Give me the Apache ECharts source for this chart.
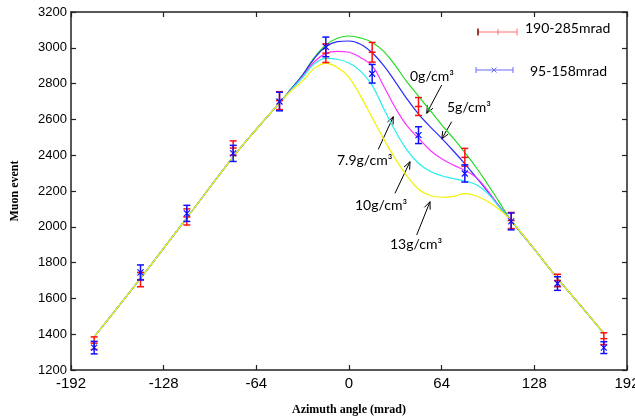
<!DOCTYPE html>
<html>
<head>
<meta charset="utf-8">
<script src="https://cdn.jsdelivr.net/npm/echarts@6/dist/echarts.min.js"></script>
<style>
  html, body { margin: 0; padding: 0; background: #fff; }
  #chart { width: 635px; height: 420px; }
</style>
</head>
<body>
<div id="chart"></div>
<script>
// measured points (azimuth angle, mrad)
const angles = [-176, -144, -112, -80, -48, -16, 16, 48, 80, 112, 144, 176];
const red = [1350, 1705, 2055, 2440, 2705, 2970, 2975, 2672, 2388, 2035, 1700, 1375];
const redErr = [35, 40, 45, 40, 50, 52, 55, 50, 50, 45, 35, 33];
const blue = [1325, 1745, 2075, 2410, 2700, 3005, 2855, 2512, 2298, 2030, 1683, 1325];
const blueErr = [35, 42, 45, 45, 52, 55, 52, 47, 48, 47, 38, 33];

// simulated curves
const curveX = [-176, -144, -112, -80, -64, -48, -40, -32, -24, -16, -8, 0, 8, 16, 24, 32, 40, 48, 56, 64, 72, 80, 88, 96, 104, 112, 128, 144, 160, 176];
const left = [1385, 1712, 2050, 2390, 2545, 2692];
const right = [2035, 1875, 1712, 1560, 1405];
const g0 = left.concat([2770, 2850, 2945, 3016, 3053, 3066, 3055, 3030, 2980, 2900, 2810, 2730, 2650, 2570, 2495, 2415, 2330, 2235, 2135], right);
const g5 = left.concat([2770, 2848, 2940, 3006, 3034, 3038, 3020, 2972, 2900, 2810, 2715, 2630, 2560, 2494, 2425, 2352, 2275, 2195, 2112], right);
const g79 = left.concat([2765, 2840, 2922, 2969, 2980, 2975, 2945, 2900, 2785, 2665, 2565, 2495, 2428, 2380, 2345, 2315, 2275, 2200, 2112], right);
const g10 = left.concat([2765, 2835, 2910, 2941, 2936, 2915, 2870, 2790, 2660, 2535, 2430, 2355, 2310, 2285, 2270, 2255, 2235, 2185, 2108], right);
const g13 = left.concat([2760, 2815, 2885, 2913, 2890, 2835, 2730, 2610, 2490, 2380, 2285, 2210, 2175, 2165, 2170, 2185, 2172, 2140, 2095], right);

const curves = [
  { name: '0g/cm³', data: g0, color: '#22dd22' },
  { name: '5g/cm³', data: g5, color: '#2a2aff' },
  { name: '7.9g/cm³', data: g79, color: '#ff33ff' },
  { name: '10g/cm³', data: g10, color: '#22eeee' },
  { name: '13g/cm³', data: g13, color: '#f2f200' }
];

const chart = echarts.init(document.getElementById('chart'));

function errorBar(color, marker) {
  return function (params, api) {
    const x = api.value(0), y = api.value(1), e = api.value(2);
    const t = api.coord([x, y + e]), b = api.coord([x, y - e]), m = api.coord([x, y]);
    const h = 3.5;
    const st = { stroke: color, lineWidth: 1.5 };
    const kids = [
      { type: 'line', shape: { x1: t[0], y1: t[1], x2: b[0], y2: b[1] }, style: st },
      { type: 'line', shape: { x1: t[0] - h, y1: t[1], x2: t[0] + h, y2: t[1] }, style: st },
      { type: 'line', shape: { x1: b[0] - h, y1: b[1], x2: b[0] + h, y2: b[1] }, style: st }
    ];
    if (marker === 'plus') {
      kids.push({ type: 'line', shape: { x1: m[0] - h, y1: m[1], x2: m[0] + h, y2: m[1] }, style: st });
    } else {
      kids.push({ type: 'line', shape: { x1: m[0] - 3, y1: m[1] - 3, x2: m[0] + 3, y2: m[1] + 3 }, style: { stroke: color, lineWidth: 1.2 } });
      kids.push({ type: 'line', shape: { x1: m[0] - 3, y1: m[1] + 3, x2: m[0] + 3, y2: m[1] - 3 }, style: { stroke: color, lineWidth: 1.2 } });
    }
    return { type: 'group', children: kids };
  };
}

// arrow with open head
function arrow(x1, y1, x2, y2) {
  const a = Math.atan2(y2 - y1, x2 - x1), L = 8, w = 0.4;
  return [
    { type: 'line', shape: { x1: x1, y1: y1, x2: x2, y2: y2 }, style: { stroke: '#000', lineWidth: 1 } },
    { type: 'polyline', shape: { points: [[x2 - L * Math.cos(a - w), y2 - L * Math.sin(a - w)], [x2, y2], [x2 - L * Math.cos(a + w), y2 - L * Math.sin(a + w)]] },
      style: { stroke: '#000', fill: null, lineWidth: 1 } }
  ];
}

function label(text, x, y) {
  return { type: 'text', left: x, top: y - 9, z: 10, style: { text: text, font: '14px Lato', fill: '#000' } };
}

const graphics = [
  label('0g/cm³', 410, 78), label('5g/cm³', 447, 109), label('7.9g/cm³', 337, 162),
  label('10g/cm³', 355, 207), label('13g/cm³', 390, 246)
].concat(
  arrow(441.7, 85, 426.7, 113.3),
  arrow(451.7, 121.7, 441.7, 139),
  arrow(378.3, 149.3, 393.3, 116.7),
  arrow(395, 193.3, 410, 161.7),
  arrow(416.7, 235, 430, 201.7)
).concat([
  // legend: red
  { type: 'line', shape: { x1: 478, y1: 32, x2: 517, y2: 32 }, style: { stroke: '#ff7070', lineWidth: 1 } },
  { type: 'line', shape: { x1: 478, y1: 28.5, x2: 478, y2: 35.5 }, style: { stroke: '#700000', lineWidth: 1.5 } },
  { type: 'line', shape: { x1: 498, y1: 29, x2: 498, y2: 35 }, style: { stroke: '#ff7070', lineWidth: 1 } },
  { type: 'line', shape: { x1: 517, y1: 28.5, x2: 517, y2: 35.5 }, style: { stroke: '#ff7070', lineWidth: 1 } },
  { type: 'text', left: 525, top: 21, style: { text: '190-285mrad', font: '14px Lato', fill: '#000' } },
  // legend: blue
  { type: 'line', shape: { x1: 476, y1: 70, x2: 513, y2: 70 }, style: { stroke: '#6a6aff', lineWidth: 1 } },
  { type: 'line', shape: { x1: 476, y1: 67, x2: 476, y2: 73 }, style: { stroke: '#6a6aff', lineWidth: 1 } },
  { type: 'line', shape: { x1: 513, y1: 67, x2: 513, y2: 73 }, style: { stroke: '#6a6aff', lineWidth: 1 } },
  { type: 'line', shape: { x1: 491.5, y1: 67.5, x2: 496.5, y2: 72.5 }, style: { stroke: '#6a6aff', lineWidth: 1 } },
  { type: 'line', shape: { x1: 491.5, y1: 72.5, x2: 496.5, y2: 67.5 }, style: { stroke: '#6a6aff', lineWidth: 1 } },
  { type: 'text', left: 530, top: 64, style: { text: '95-158mrad', font: '14px Lato', fill: '#000' } }
]);

const axisLine = { show: true, onZero: false, lineStyle: { color: '#222', width: 1.5 } };
const tick = { show: true, inside: true, length: 5, lineStyle: { color: '#222', width: 1.2 } };

const options = {
  animation: false,
  grid: { left: 71, right: 8, top: 12, bottom: 50, outerBoundsMode: 'none', containLabel: false },
  xAxis: [
    {
      type: 'value', min: -192, max: 192, interval: 64,
      name: 'Azimuth angle (mrad)', nameLocation: 'middle', nameGap: 34,
      nameTextStyle: { fontFamily: 'Liberation Serif', fontWeight: 'bold', fontSize: 12, color: '#000' },
      axisLine: axisLine, axisTick: tick,
      axisLabel: { fontFamily: 'Liberation Sans', fontSize: 15, color: '#000', margin: 6, formatter: v => String(v) },
      splitLine: { show: false }
    },
    {
      type: 'value', min: -192, max: 192, interval: 64, position: 'top',
      axisLine: axisLine, axisTick: tick, axisLabel: { show: false }, splitLine: { show: false }
    }
  ],
  yAxis: [
    {
      type: 'value', min: 1200, max: 3200, interval: 200,
      name: 'Muon event', nameLocation: 'middle', nameGap: 50,
      nameTextStyle: { fontFamily: 'Liberation Serif', fontWeight: 'bold', fontSize: 12, color: '#000' },
      axisLine: axisLine, axisTick: tick,
      axisLabel: { fontFamily: 'Liberation Sans', fontSize: 13, color: '#000', margin: 4, formatter: v => String(v) },
      splitLine: { show: false }
    },
    {
      type: 'value', min: 1200, max: 3200, interval: 200, position: 'right',
      axisLine: axisLine, axisTick: tick, axisLabel: { show: false }, splitLine: { show: false }
    }
  ],
  series: curves.map(c => ({
    name: c.name, type: 'line', smooth: 0.4, showSymbol: false,
    data: curveX.map((x, i) => [x, c.data[i]]),
    lineStyle: { color: c.color, width: 1.2 }, z: 2
  })).concat([
    {
      name: '190-285mrad', type: 'custom', renderItem: errorBar('#ff1010', 'plus'),
      data: angles.map((a, i) => [a, red[i], redErr[i]]), encode: { x: 0, y: 1 }, z: 3
    },
    {
      name: '95-158mrad', type: 'custom', renderItem: errorBar('#1010ff', 'x'),
      data: angles.map((a, i) => [a, blue[i], blueErr[i]]), encode: { x: 0, y: 1 }, z: 4
    }
  ]),
  graphic: graphics
};
chart.setOption(options, true);
</script>
</body>
</html>
